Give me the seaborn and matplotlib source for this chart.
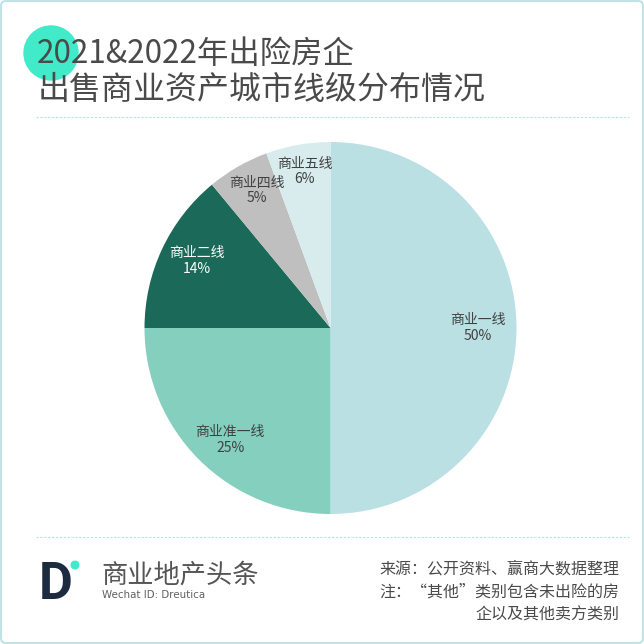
import seaborn as sns
import matplotlib

matplotlib.use("Agg")
import matplotlib.pyplot as plt
from matplotlib.patches import Circle, FancyBboxPatch
import numpy as np

categories = ["商业一线", "商业准一线", "商业二线", "商业四线", "商业五线"]
shares = [50, 25, 14, 5.4, 5.6]
slice_colors = ["#BBE0E3", "#85CFBF", "#1B6958", "#BFBFBF", "#D8ECEE"]
label_colors = ["#404040", "#404040", "#FFFFFF", "#404040", "#404040"]
label_dist = [0.79, 0.80, 0.81, 0.84, 0.86]
label_nudge = [(0, 0), (5, -7), (3, 3), (4, 2), (2, -1)]  # 标签微调，像素

title_lines = ["2021&2022年出险房企", "出售商业资产城市线级分布情况"]
source_lines = ["来源：公开资料、赢商大数据整理", "注：“其他”类别包含未出险的房", "企以及其他卖方类别"]

sns.set_theme(style="white")
plt.rcParams["font.family"] = ["Noto Sans CJK SC", "DejaVu Sans"]

fig = plt.figure(figsize=(6.44, 6.44), dpi=100)

# 整张图的像素坐标层
bg = fig.add_axes([0, 0, 1, 1])
bg.set_xlim(0, 644)
bg.set_ylim(644, 0)
bg.axis("off")

bg.add_patch(
    FancyBboxPatch(
        (1, 1), 642, 642,
        boxstyle="round,pad=0,rounding_size=5",
        facecolor="white", edgecolor="#BFE3E6", linewidth=1.5,
    )
)
bg.add_patch(Circle((51, 53), 27, color="#41EAC8", zorder=1))

text_c = "#4A4A4A"
bg.text(37, 54, title_lines[0], fontsize=22.6, color=text_c, va="center", ha="left", zorder=3)
bg.text(38, 90, title_lines[1], fontsize=23, color=text_c, va="center", ha="left", zorder=3)

for yy in [117, 537]:
    bg.plot([36, 629], [yy, yy], color="#B5E6DF", linewidth=0.8, linestyle=(0, (2, 1.5)))

# 饼图
ax = fig.add_axes([(330.5 - 186) / 644, 1 - (328 + 186) / 644, 372 / 644, 372 / 644])
wedges, _ = ax.pie(
    shares,
    colors=sns.color_palette(slice_colors),
    startangle=90,
    counterclock=False,
    radius=1,
    wedgeprops={"linewidth": 0},
)
ax.set_xlim(-1, 1)
ax.set_ylim(-1, 1)

for w, name, val, c, d, nudge in zip(wedges, categories, shares, label_colors, label_dist, label_nudge):
    mid = np.deg2rad((w.theta1 + w.theta2) / 2)
    ax.annotate(
        "%s\n%.0f%%" % (name, val),
        xy=(d * np.cos(mid), d * np.sin(mid)),
        xytext=(nudge[0] * 0.72, nudge[1] * 0.72),
        textcoords="offset points",
        ha="center", va="center", fontsize=10, color=c, linespacing=1.15,
    )

# 底部 logo 和来源
bg.text(39, 599, "D", fontsize=37.5, color="#1C2B3F", weight="bold", family="Roboto", va="baseline", ha="left")
bg.add_patch(Circle((75, 565), 3.8, color="#41EAC8"))
bg.text(101, 575, "商业地产头条", fontsize=18.9, color="#555555", va="center", ha="left")
bg.text(102, 595, "Wechat ID: Dreutica", fontsize=7.4, color="#606060", va="center", ha="left", family="DejaVu Sans")

bg.text(379, 569, source_lines[0], fontsize=11.5, color=text_c, va="center", ha="left")
bg.text(619, 592, source_lines[1], fontsize=11.5, color=text_c, va="center", ha="right")
bg.text(619, 615, source_lines[2], fontsize=11.5, color=text_c, va="center", ha="right")

plt.savefig("out.png", dpi=100)
plt.close(fig)
